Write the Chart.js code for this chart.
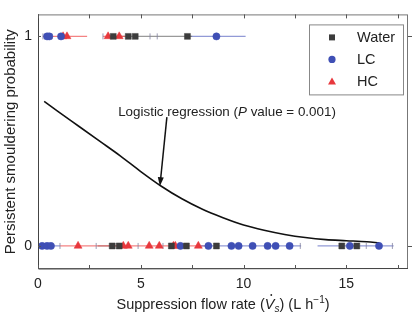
<!DOCTYPE html>
<html>
<head>
<meta charset="utf-8">
<script src="https://cdn.jsdelivr.net/npm/chart.js@4.4.0/dist/chart.umd.min.js"></script>
<style>
  html, body { margin: 0; padding: 0; background: #fff; }
  #wrap { width: 414px; height: 321px; }
</style>
</head>
<body>
<div id="wrap"><canvas id="chart"></canvas></div>
<script>
// Observations (flow rate, L/h) split by outcome row
const waterSmoulder = [3.66, 4.39, 4.73, 7.27];
const lcSmoulder = [0.44, 0.55, 1.12, 8.68];
const hcSmoulder = [1.22, 1.41, 3.41, 3.95];

const waterOut = [3.61, 3.95, 6.49, 7.22, 8.68, 14.78, 15.51];
const lcOut = [0.2, 0.44, 0.63, 6.93, 8.29, 9.41, 9.76, 10.44, 11.17, 11.56, 12.24, 15.17, 16.59];
const hcOut = [1.95, 4.15, 4.39, 5.41, 5.9, 6.59, 6.68, 7.8];

// Horizontal spread bars [from, to] per row and group
const barsSmoulder = { hc: [[0.24, 2.39], [3.16, 4.24]], water: [[3.5, 7.5]], lc: [[7.27, 10.1]] };
const barsOut = { lc: [[0, 1.07], [7.9, 12.8], [13.6, 17.3]], hc: [[1.07, 8.4]], water: [[2.9, 4.0]] };
const barTicksSmoulder = [0.24, 0.68, 3.16, 5.45, 5.8];
const barTicksOut = [1.07, 2.83, 4.87, 6.08, 12.76, 15.97, 17.24];

// Logistic regression curve
const curveX = [0.3, 1, 2, 3, 4, 5, 6, 7, 8, 9, 10, 11, 12, 13, 14, 15, 16, 16.6];
const curveP = [0.69, 0.64, 0.57, 0.5, 0.43, 0.355, 0.285, 0.225, 0.175, 0.135, 0.10, 0.075, 0.055, 0.04, 0.03, 0.025, 0.02, 0.015];

const xTicks = [0, 2.5, 5, 7.5, 10, 12.5, 15, 17.5];
const yTicks = [0, 1];

const colors = {
    water: "#3c3c3c",
    lc: "#3f4fb5",
    hc: "#e8383d",
};
const barColors = {
    water: "rgba(120,120,120,0.75)",
    lc: "rgba(110,120,200,0.75)",
    hc: "rgba(240,90,90,0.75)",
};

const toPts = (xs, y) => xs.map((x) => ({ x: x, y: y }));

const datasets = [];

// markers
const groups = [
    { key: "water", style: "rect", radius: 4.2 },
    { key: "lc", style: "circle", radius: 3.6 },
    { key: "hc", style: "triangle", radius: 4.6 },
];
const rows = {
    water: [waterSmoulder, waterOut],
    lc: [lcSmoulder, lcOut],
    hc: [hcSmoulder, hcOut],
};
groups.forEach((g) => {
    const pts = toPts(rows[g.key][0], 1).concat(toPts(rows[g.key][1], 0));
    datasets.push({
        type: "scatter",
        data: pts,
        pointStyle: g.style,
        pointRadius: g.radius,
        pointBackgroundColor: colors[g.key],
        pointBorderColor: colors[g.key],
        pointBorderWidth: 0.5,
        order: 1,
    });
});

// spread bars
[[barsSmoulder, 1], [barsOut, 0]].forEach(([bars, y]) => {
    Object.keys(bars).forEach((key) => {
        bars[key].forEach((r) => {
            datasets.push({
                type: "line",
                data: toPts(r, y),
                borderColor: barColors[key],
                borderWidth: 1.2,
                pointRadius: 0,
                order: 5,
            });
        });
    });
});

// small tick marks on the bars
datasets.push({
    type: "scatter",
    data: toPts(barTicksSmoulder, 1).concat(toPts(barTicksOut, 0)),
    pointStyle: "line",
    rotation: 90,
    pointRadius: 3,
    borderColor: "rgba(130,130,160,0.8)",
    pointBorderColor: "rgba(130,130,160,0.8)",
    pointBorderWidth: 1,
    order: 4,
});

// regression curve
datasets.push({
    type: "line",
    data: curveX.map((x, i) => ({ x: x, y: curveP[i] })),
    borderColor: "#111",
    borderWidth: 1.6,
    pointRadius: 0,
    tension: 0.4,
    cubicInterpolationMode: "monotone",
    order: 2,
});

const FONT = "'Liberation Sans', Arial, sans-serif";

const decorations = {
    id: "decorations",
    afterDraw(chart) {
        const ctx = chart.ctx;
        const a = chart.chartArea;
        const xs = chart.scales.x;
        const ys = chart.scales.y;
        ctx.save();

        // frame
        ctx.strokeStyle = "#777";
        ctx.lineWidth = 1;
        ctx.strokeRect(a.left + 0.5, a.top + 0.5, a.right - a.left - 1, a.bottom - a.top - 1);
        ctx.strokeStyle = "#444";
        ctx.beginPath();
        ctx.moveTo(a.left + 0.5, a.top);
        ctx.lineTo(a.left + 0.5, a.bottom);
        ctx.lineTo(a.right, a.bottom - 0.5);
        ctx.stroke();

        // inward ticks
        ctx.strokeStyle = "#555";
        ctx.beginPath();
        xTicks.forEach((v) => {
            const px = Math.round(xs.getPixelForValue(v)) + 0.5;
            ctx.moveTo(px, a.bottom);
            ctx.lineTo(px, a.bottom - 4);
            ctx.moveTo(px, a.top);
            ctx.lineTo(px, a.top + 4);
        });
        yTicks.forEach((v) => {
            const py = Math.round(ys.getPixelForValue(v)) + 0.5;
            ctx.moveTo(a.right, py);
            ctx.lineTo(a.right + 4, py);
            ctx.moveTo(a.left, py);
            ctx.lineTo(a.left + 3, py);
        });
        ctx.stroke();

        // annotation text + arrow
        ctx.fillStyle = "#222";
        ctx.textBaseline = "middle";
        ctx.textAlign = "left";
        let tx = xs.getPixelForValue(3.9);
        const ty = ys.getPixelForValue(0.64);
        const parts = [
            ["Logistic regression (", ""],
            ["P", "italic "],
            [" value = 0.001)", ""],
        ];
        parts.forEach(([t, st]) => {
            ctx.font = st + "13.4px " + FONT;
            ctx.fillText(t, tx, ty);
            tx += ctx.measureText(t).width;
        });

        const x0 = xs.getPixelForValue(6.27), y0 = ys.getPixelForValue(0.615);
        const x1 = xs.getPixelForValue(5.93), y1 = ys.getPixelForValue(0.285);
        const ang = Math.atan2(y1 - y0, x1 - x0);
        ctx.strokeStyle = "#111";
        ctx.lineWidth = 1.5;
        ctx.beginPath();
        ctx.moveTo(x0, y0);
        ctx.lineTo(x1 - 6 * Math.cos(ang), y1 - 6 * Math.sin(ang));
        ctx.stroke();
        ctx.fillStyle = "#111";
        ctx.beginPath();
        ctx.moveTo(x1, y1);
        ctx.lineTo(x1 - 9 * Math.cos(ang) + 3 * Math.sin(ang), y1 - 9 * Math.sin(ang) - 3 * Math.cos(ang));
        ctx.lineTo(x1 - 9 * Math.cos(ang) - 3 * Math.sin(ang), y1 - 9 * Math.sin(ang) + 3 * Math.cos(ang));
        ctx.closePath();
        ctx.fill();

        // legend box
        const lx = a.right - 99, ly = a.top + 10;
        ctx.fillStyle = "#fff";
        ctx.fillRect(lx, ly, 94, 70);
        ctx.strokeStyle = "#888";
        ctx.lineWidth = 1;
        ctx.strokeRect(lx + 0.5, ly + 0.5, 94, 70);
        const items = [["Water", "water", "rect"], ["LC", "lc", "circle"], ["HC", "hc", "triangle"]];
        items.forEach(([label, key, style], i) => {
            const cy = ly + 13 + i * 22;
            ctx.fillStyle = colors[key];
            if (style === "rect") {
                ctx.fillRect(lx + 20, cy - 3, 6, 6);
            } else if (style === "circle") {
                ctx.beginPath();
                ctx.arc(lx + 23, cy, 3.6, 0, Math.PI * 2);
                ctx.fill();
            } else {
                ctx.beginPath();
                ctx.moveTo(lx + 23, cy - 4);
                ctx.lineTo(lx + 27, cy + 3);
                ctx.lineTo(lx + 19, cy + 3);
                ctx.closePath();
                ctx.fill();
            }
            ctx.fillStyle = "#222";
            ctx.font = "14.5px " + FONT;
            ctx.textAlign = "left";
            ctx.fillText(label, lx + 48, cy + 1);
        });

        // x axis title with dot, italic V, subscript s, superscript -1
        const tparts = [
            ["Suppression flow rate (", "", 0, 14.5],
            ["V", "italic ", 0, 14.5],
            ["s", "italic ", 4, 10],
            [") (L h", "", 0, 14.5],
            ["\u22121", "", -5, 10],
            [")", "", 0, 14.5],
        ];
        let total = 0;
        tparts.forEach(([t, st, dy, sz]) => {
            ctx.font = st + sz + "px " + FONT;
            total += ctx.measureText(t).width;
        });
        let cx = (a.left + a.right) / 2 - total / 2;
        const cyT = 305;
        ctx.fillStyle = "#222";
        ctx.textBaseline = "middle";
        tparts.forEach(([t, st, dy, sz]) => {
            ctx.font = st + sz + "px " + FONT;
            ctx.fillText(t, cx, cyT + dy);
            if (t === "V") {
                ctx.beginPath();
                ctx.arc(cx + 6.5, cyT - 10, 0.9, 0, Math.PI * 2);
                ctx.fill();
            }
            cx += ctx.measureText(t).width;
        });

        ctx.restore();
    },
};

new Chart(document.getElementById("chart"), {
    data: { datasets: datasets },
    options: {
        responsive: true,
        maintainAspectRatio: false,
        animation: false,
        layout: { padding: { top: 4, right: 6, left: 0, bottom: 0 } },
        plugins: {
            legend: { display: false },
            tooltip: { enabled: false },
        },
        scales: {
            x: {
                type: "linear",
                min: 0,
                max: 18,
                afterFit: (s) => { s.height = 52; },
                afterBuildTicks: (s) => { s.ticks = [0, 5, 10, 15].map((v) => ({ value: v })); },
                grid: { display: false, drawTicks: false },
                border: { display: false },
                ticks: {
                    padding: 7,
                    color: "#222",
                    font: { family: FONT, size: 14 },
                },
            },
            y: {
                type: "linear",
                min: -0.11,
                max: 1.105,
                afterFit: (s) => { s.width = 38; },
                afterBuildTicks: (s) => { s.ticks = yTicks.map((v) => ({ value: v })); },
                grid: { display: false, drawTicks: false },
                border: { display: false },
                ticks: {
                    padding: 6,
                    color: "#222",
                    font: { family: FONT, size: 14 },
                },
                title: {
                    display: true,
                    text: "Persistent smouldering probability",
                    color: "#222",
                    font: { family: FONT, size: 15 },
                    padding: { top: 2, bottom: 0 },
                },
            },
        },
    },
    plugins: [decorations],
});
</script>
</body>
</html>
